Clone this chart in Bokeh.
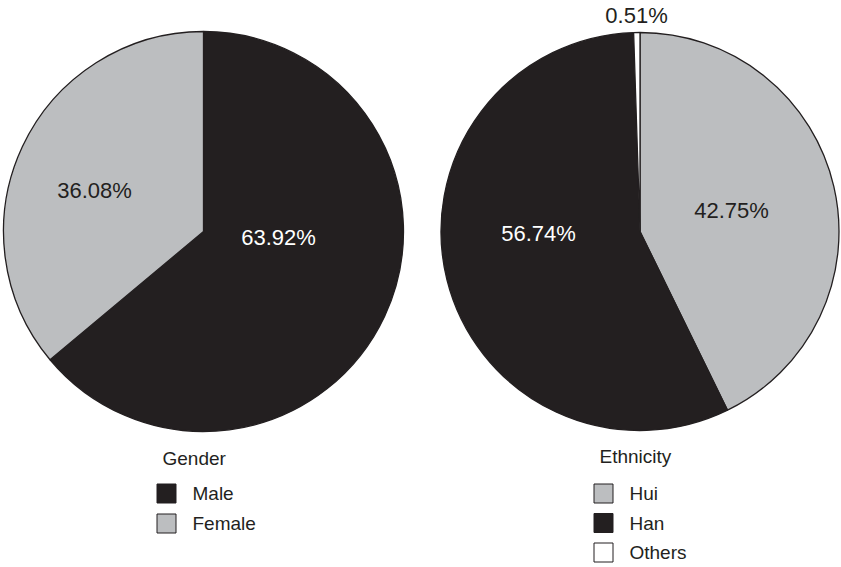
import numpy as np
from bokeh.plotting import figure
from bokeh.models import Range1d, ColumnDataSource
from bokeh.core.properties import value
from bokeh.embed import file_html
from bokeh.resources import INLINE

# --- data ---
gender_labels = ["Male", "Female"]
gender_values = [63.92, 36.08]

ethnicity_labels = ["Hui", "Han", "Others"]
ethnicity_values = [42.75, 56.74, 0.51]

# --- styling ---
W, H = 841, 567
DARK = "#231f20"
GREY = "#bcbec0"
WHITE = "#ffffff"
FONT = value("Liberation Sans")

gender_colors = [DARK, GREY]
ethnicity_colors = [GREY, DARK, WHITE]


def fy(y):
    """Convert a top-down pixel row to the upward data axis."""
    return H - y


p = figure(width=W, height=H, x_range=Range1d(0, W), y_range=Range1d(0, H),
           output_backend="svg", toolbar_location=None,
           x_axis_type=None, y_axis_type=None,
           min_border=0, min_border_left=0, min_border_right=0,
           min_border_top=0, min_border_bottom=0)
p.grid.visible = False
p.outline_line_color = None
p.background_fill_color = "white"
p.border_fill_color = "white"


def draw_pie(values, colors, cx, cy, r, label_pos, label_colors):
    vals = np.asarray(values, dtype=float)
    frac = vals / vals.sum()
    cum_after = np.cumsum(frac)
    cum_before = cum_after - frac
    # slices run clockwise from 12 o'clock
    start = np.pi / 2 - 2 * np.pi * cum_after
    end = np.pi / 2 - 2 * np.pi * cum_before
    src = ColumnDataSource(dict(start=start, end=end, color=colors))
    p.wedge(x=cx, y=fy(cy), radius=r, start_angle="start", end_angle="end",
            fill_color="color", line_color=DARK, line_width=1.3, source=src)
    texts = [f"{v:.2f}%" for v in values]
    lx = [pos[0] for pos in label_pos]
    ly = [fy(pos[1]) for pos in label_pos]
    p.text(x=lx, y=ly, text=texts, text_color=label_colors,
           text_font=FONT, text_font_size="22px",
           text_align="center", text_baseline="middle")


def draw_legend(title, labels, colors, x, title_y, first_y, step):
    # title_y / first_y are the vertical centres of the text rows
    p.text(x=[x + 6], y=[fy(title_y)], text=[title], text_color=DARK,
           text_font=FONT, text_font_size="19px",
           text_align="left", text_baseline="middle")
    ys = [first_y + i * step for i in range(len(labels))]
    p.rect(x=[x + 10] * len(labels), y=[fy(y) for y in ys],
           width=19, height=19, fill_color=colors, line_color=DARK,
           line_width=1)
    p.text(x=[x + 36] * len(labels), y=[fy(y) for y in ys], text=labels,
           text_color=DARK, text_font=FONT, text_font_size="19px",
           text_align="left", text_baseline="middle")


# Gender pie
draw_pie(gender_values, gender_colors, 203, 231, 200,
         label_pos=[(278, 237), (94, 190)],
         label_colors=[WHITE, DARK])

# Ethnicity pie
draw_pie(ethnicity_values, ethnicity_colors, 639.5, 231, 199,
         label_pos=[(731, 210), (538, 233), (636, 15)],
         label_colors=[DARK, WHITE, DARK])

draw_legend("Gender", gender_labels, gender_colors, 156, 458, 493, 30)
draw_legend("Ethnicity", ethnicity_labels, ethnicity_colors, 593, 456, 493, 29.5)

open("out.html", "w").write(file_html(p, INLINE))
